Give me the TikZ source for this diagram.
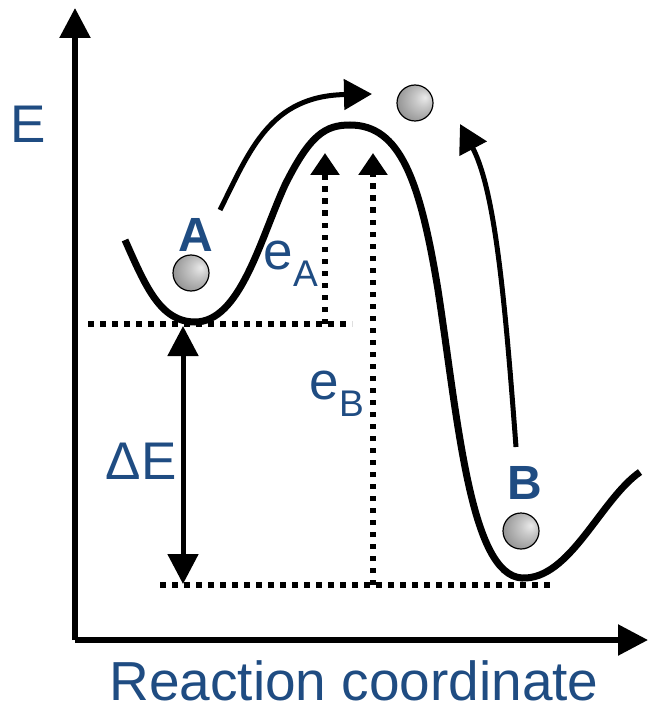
\documentclass[tikz,border=0pt]{standalone}
\usepackage{fontspec}
\setmainfont{Liberation Sans}
\usetikzlibrary{arrows.meta}
\definecolor{lblue}{RGB}{31,76,130}
\pgfdeclareradialshading{myball}{\pgfpoint{14bp}{8bp}}{color(0bp)=(black!8); color(12bp)=(black!22); color(40bp)=(black!50); color(60bp)=(black!60)}
\tikzset{
  lbl/.style={text=lblue,inner sep=0pt,font=\fontsize{53}{60}\selectfont},
  blbl/.style={text=lblue,inner sep=0pt,font=\fontsize{48}{54}\selectfont\bfseries},
  ball/.style={circle,minimum size=36pt,inner sep=0pt,draw=black,line width=1.2pt,shading=myball},
  axis/.style={line width=5.5pt,-{Triangle[length=30pt,width=30pt]}},
  move/.style={line width=5pt,-{Triangle[length=28pt,width=30pt]}},
  dots/.style={line width=5.5pt,dash pattern=on 5.5pt off 6.5pt},
  dotarrow/.style={dots,-{Triangle[length=22pt,width=28pt]}},
  curve/.style={line width=7pt}
}
\begin{document}
\begin{tikzpicture}[x=1pt,y=-1pt]
\useasboundingbox (0,0) rectangle (654,711);
% axes
\coordinate (O) at (75,640);
\coordinate (Ytop) at (75,8);
\coordinate (Xend) at (648,640);
\draw[axis] (O) -- (Ytop);
\draw[axis] (O) -- (Xend);
\node[lbl] (E) at (28,124) {E};
\node[lbl,font=\fontsize{55}{60}\selectfont,anchor=base] (rc) at (354,700) {Reaction coordinate};
% energy curve
\draw[curve] (125,240) .. controls (145,285) and (160,322) .. (195,322)
  .. controls (240,322) and (260,240) .. (285,185)
  .. controls (310,135) and (325,125) .. (350,125)
  .. controls (400,125) and (420,180) .. (438,290)
  .. controls (458,420) and (470,575) .. (522,578)
  .. controls (570,580) and (600,500) .. (640,472);
% dotted levels
\coordinate (la) at (88,324);
\coordinate (ra) at (352,324);
\coordinate (lb) at (160,585);
\coordinate (rb) at (552,585);
\draw[dots] (la) -- (ra);
\draw[dots] (lb) -- (rb);
\coordinate (eAb) at (325,324);
\coordinate (eAt) at (325,153);
\coordinate (eBb) at (373,585);
\coordinate (eBt) at (373,153);
\draw[dotarrow] (eAb) -- (eAt);
\draw[dotarrow] (eBb) -- (eBt);
% Delta E
\coordinate (dEt) at (183,326);
\coordinate (dEb) at (183,584);
\draw[line width=5pt,{Triangle[length=30pt,width=30pt]}-{Triangle[length=30pt,width=30pt]}] (dEt) -- (dEb);
\node[lbl] (dE) at (141,461) {ΔE};
% labels
\node[lbl] (eA) at (291,264) {e\textsubscript{A}};
\node[lbl] (eB) at (337,394) {e\textsubscript{B}};
\node[blbl] (A) at (196,235) {A};
\node[blbl] (B) at (525,483) {B};
% balls
\node[ball] (bA) at (191,273) {};
\node[ball] (bT) at (415,103) {};
\node[ball] (bB) at (521,531) {};
% moves
\coordinate (mA) at (220,210);
\coordinate (mAt) at (372,94);
\draw[move] (mA) .. controls (250,150) and (270,96) .. (mAt);
\coordinate (mB) at (516,447);
\coordinate (mBt) at (460,124);
\draw[move] (mB) .. controls (505,300) and (495,190) .. (mBt);
\end{tikzpicture}
\end{document}
